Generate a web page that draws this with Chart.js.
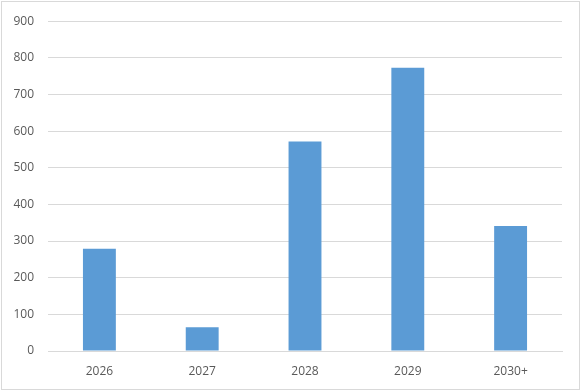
<!DOCTYPE html>
<html>
<head>
<meta charset="utf-8">
<script src="https://cdn.jsdelivr.net/npm/chart.js@4/dist/chart.umd.min.js"></script>
<style>
  html, body { margin: 0; padding: 0; background: #fff; }
  #wrap { width: 581px; height: 391px; }
</style>
</head>
<body>
<div id="wrap"><canvas id="chart"></canvas></div>
<script>
"use strict";

// Values
const years = ["2026", "2027", "2028", "2029", "2030+"];
const amounts = [279, 65, 572, 773, 341];
const yTicks = [0, 100, 200, 300, 400, 500, 600, 700, 800, 900];

// Light gray frame around the whole chart, like the spreadsheet chart border
const frame = {
  id: "frame",
  beforeDraw(chart) {
    const ctx = chart.ctx;
    ctx.save();
    ctx.fillStyle = "#ffffff";
    ctx.fillRect(0, 0, chart.width, chart.height);
    ctx.strokeStyle = "#d9d9d9";
    ctx.lineWidth = 1;
    ctx.strokeRect(1.5, 1.5, chart.width - 3, chart.height - 3);
    ctx.restore();
  }
};

const tickFont = { family: "'Open Sans', 'Liberation Sans', sans-serif", size: 12 };

const config = {
  type: "bar",
  data: {
    labels: years,
    datasets: [{
      data: amounts,
      backgroundColor: "#5b9bd5",
      borderWidth: 0,
      categoryPercentage: 1,
      barPercentage: 0.32,
    }],
  },
  options: {
    responsive: true,
    maintainAspectRatio: false,
    animation: false,
    layout: { padding: { top: 19, right: 19, left: 0, bottom: 0 } },
    plugins: { legend: { display: false }, tooltip: { enabled: false } },
    scales: {
      x: {
        grid: { display: false },
        border: { color: "#d9d9d9" },
        ticks: { color: "#595959", font: tickFont, padding: 5 },
        afterFit(scale) { scale.height = 40; },
      },
      y: {
        min: 0,
        max: 900,
        afterBuildTicks(scale) { scale.ticks = yTicks.map(v => ({ value: v })); },
        grid: { color: "#d9d9d9", drawTicks: false },
        border: { display: false },
        ticks: { color: "#595959", font: tickFont, padding: 14 },
        afterFit(scale) { scale.width = 48; },
      },
    },
  },
  plugins: [frame],
};

new Chart(document.querySelector("#chart"), config);
</script>
</body>
</html>
